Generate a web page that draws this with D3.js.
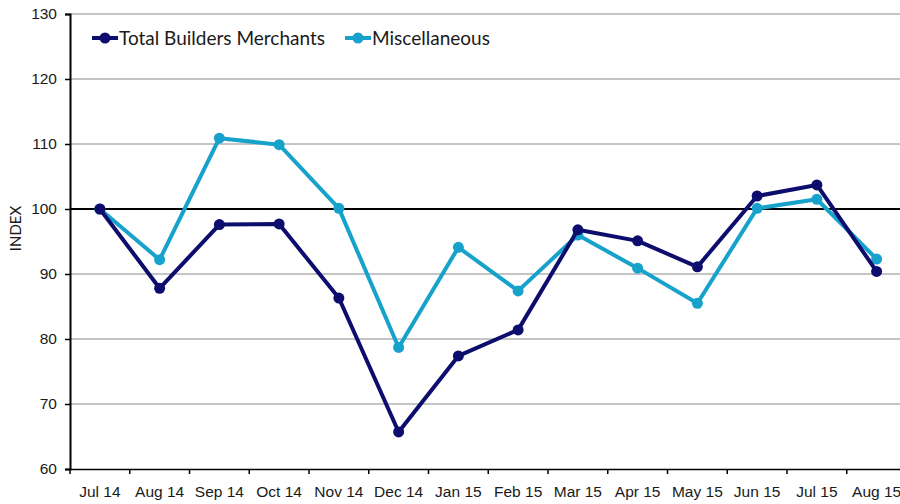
<!DOCTYPE html>
<html>
<head>
<meta charset="utf-8">
<script src="https://cdn.jsdelivr.net/npm/d3@7"></script>
<style>
  body { margin: 0; background: #fff; }
  svg { font-family: Lato, "Open Sans", sans-serif; }
</style>
</head>
<body>
<svg id="chart" width="900" height="504"></svg>
<script>
const months = ['Jul 14', 'Aug 14', 'Sep 14', 'Oct 14', 'Nov 14', 'Dec 14', 'Jan 15',
  'Feb 15', 'Mar 15', 'Apr 15', 'May 15', 'Jun 15', 'Jul 15', 'Aug 15'];
const totalBM = [100, 87.8, 97.6, 97.7, 86.3, 65.7, 77.4, 81.4, 96.8, 95.1, 91.1, 102, 103.7, 90.4];
const misc = [100, 92.2, 110.9, 109.9, 100.1, 78.7, 94.1, 87.4, 96, 90.9, 85.5, 100.1, 101.5, 92.3];
const yTicks = [60, 70, 80, 90, 100, 110, 120, 130];

const svg = d3.select('#chart');
const plotLeft = 70, plotTop = 14, plotBottom = 469;

const x = d3.scaleBand().domain(months).range([plotLeft, plotLeft + 14 * 59.75]);
const y = d3.scaleLinear().domain([60, 130]).range([plotBottom, plotTop]);

// gridlines
svg.append('g')
  .selectAll('line')
  .data(yTicks.filter(d => d !== 60 && d !== 100))
  .join('line')
  .attr('x1', plotLeft).attr('x2', 900)
  .attr('y1', d => y(d)).attr('y2', d => y(d))
  .attr('stroke', '#8a8a8a').attr('stroke-width', 1);

// y axis
const yAxis = svg.append('g')
  .attr('transform', `translate(${plotLeft},0)`)
  .call(d3.axisLeft(y).tickValues(yTicks).tickSize(5).tickPadding(8));
yAxis.select('.domain').attr('stroke', '#000').attr('stroke-width', 2);
yAxis.selectAll('.tick line').attr('stroke', '#000').attr('stroke-width', 1.5);
yAxis.selectAll('text').attr('font-size', 15.5).attr('fill', '#1a1a1a');

// x axis
const xAxis = svg.append('g')
  .attr('transform', `translate(0,${plotBottom})`)
  .call(d3.axisBottom(x).tickSize(0).tickPadding(17));
xAxis.select('.domain').attr('stroke', '#000').attr('stroke-width', 1.5);
xAxis.selectAll('text').attr('font-size', 15.5).attr('fill', '#1a1a1a');
svg.append('g')
  .selectAll('line')
  .data(months)
  .join('line')
  .attr('x1', d => x(d)).attr('x2', d => x(d))
  .attr('y1', plotBottom).attr('y2', plotBottom + 5)
  .attr('stroke', '#000').attr('stroke-width', 1.5);

// reference line at 100
svg.append('line')
  .attr('x1', plotLeft).attr('x2', 900)
  .attr('y1', y(100)).attr('y2', y(100))
  .attr('stroke', '#000').attr('stroke-width', 2);

svg.append('text')
  .attr('transform', `translate(21,${y(97)}) rotate(-90)`)
  .attr('text-anchor', 'middle')
  .attr('font-size', 15)
  .attr('fill', '#1a1a1a')
  .text('INDEX');

const series = [
  { name: 'Total Builders Merchants', values: totalBM, color: '#0d0d6e' },
  { name: 'Miscellaneous', values: misc, color: '#17a2cc' }
];

const line = d3.line()
  .x((d, i) => x(months[i]) + x.bandwidth() / 2)
  .y(d => y(d));

series.slice().reverse().forEach(s => {
  const g = svg.append('g');
  g.append('path')
    .datum(s.values)
    .attr('d', line)
    .attr('fill', 'none')
    .attr('stroke', s.color)
    .attr('stroke-width', 4)
    .attr('stroke-linejoin', 'round');
  g.selectAll('circle')
    .data(s.values)
    .join('circle')
    .attr('cx', (d, i) => x(months[i]) + x.bandwidth() / 2)
    .attr('cy', d => y(d))
    .attr('r', 5.5)
    .attr('fill', s.color);
});

// legend
const legendX = [92, 345];
series.forEach((s, i) => {
  const g = svg.append('g').attr('transform', `translate(${legendX[i]},38)`);
  g.append('line').attr('x1', 0).attr('x2', 26).attr('y1', 0).attr('y2', 0)
    .attr('stroke', s.color).attr('stroke-width', 4);
  g.append('circle').attr('cx', 13).attr('cy', 0).attr('r', 5.5).attr('fill', s.color);
  g.append('text').attr('x', 27).attr('y', 6.5)
    .attr('font-size', 19).attr('fill', '#1a1a1a')
    .text(s.name);
});
</script>
</body>
</html>
